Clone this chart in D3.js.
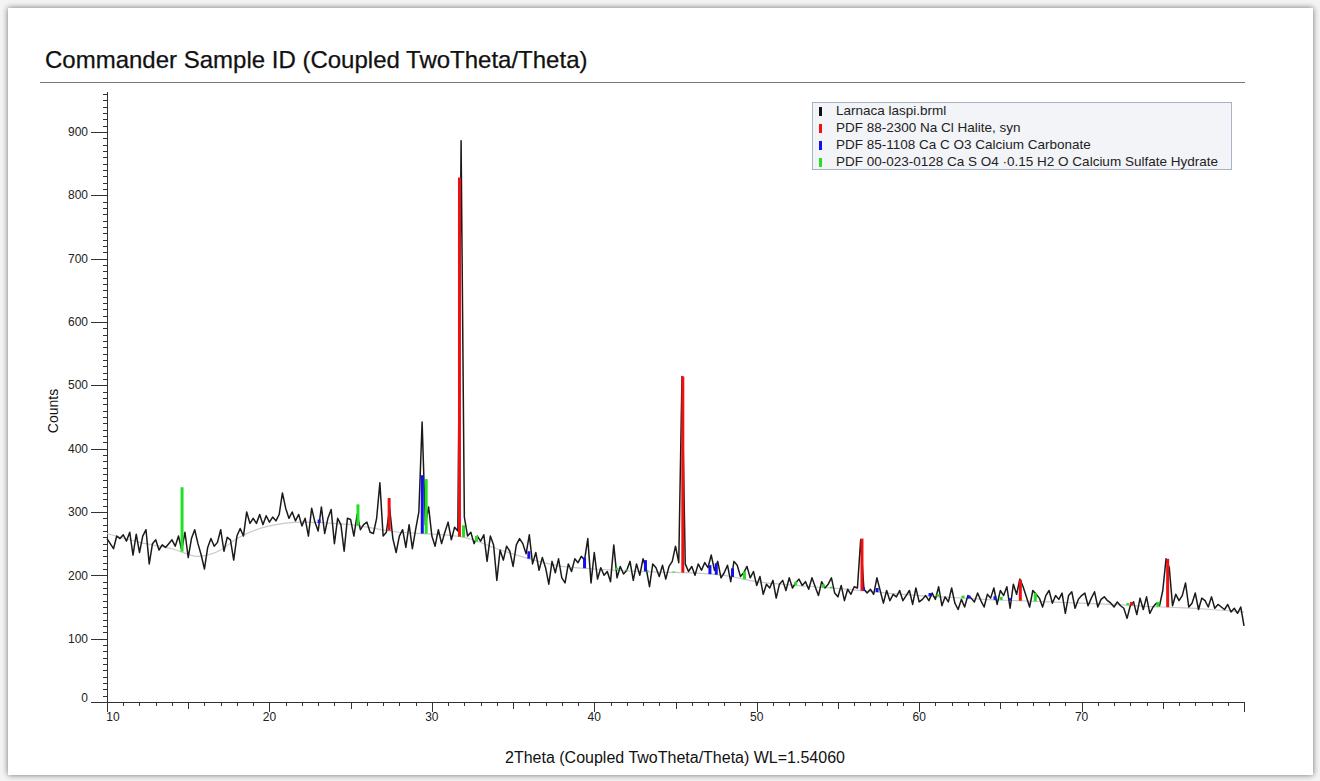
<!DOCTYPE html>
<html>
<head>
  <meta charset="utf-8">
  <title>Commander Sample ID</title>
  <script src="https://d3js.org/d3.v7.min.js"></script>
  <style>
    body {
      margin: 0;
      background: #f4f4f4;
      font-family: "Liberation Sans", Arial, sans-serif;
    }
    .card {
      position: absolute;
      left: 8px;
      top: 8px;
      width: 1305px;
      height: 767px;
      background: #fff;
      box-shadow: 0 0 6px rgba(0, 0, 0, 0.55);
    }
    svg {
      position: absolute;
      left: 0;
      top: 0;
    }
  </style>
</head>
<body>
<div class="card"></div>
<svg id="chart" width="1320" height="781"></svg>
<script>
// scan: 10..80 deg 2theta, step 0.2 (one row = 2 degrees)
var scanStart = 10, scanStep = 0.2;
var counts = [
  258, 250, 242, 262, 258, 264, 254, 268, 232, 265, // 10
  236, 262, 272, 218, 250, 256, 240, 248, 244, 250, // 12
  256, 246, 262, 240, 268, 228, 258, 272, 250, 232, // 14
  210, 244, 258, 246, 252, 272, 238, 260, 256, 224, // 16
  262, 274, 262, 300, 282, 290, 282, 296, 280, 294, // 18
  284, 292, 286, 296, 330, 306, 290, 300, 286, 296, // 20
  278, 290, 262, 306, 284, 270, 308, 266, 290, 304, // 22
  250, 290, 280, 238, 290, 288, 262, 296, 272, 280, // 24
  284, 268, 266, 290, 346, 262, 268, 306, 258, 236, // 26
  262, 272, 244, 280, 242, 272, 300, 442, 280, 308, // 28
  262, 246, 272, 250, 268, 284, 256, 276, 270, 886, // 30
  292, 262, 268, 250, 262, 254, 264, 222, 262, 248, // 32
  192, 240, 224, 246, 238, 214, 248, 258, 250, 234, // 34
  264, 218, 236, 208, 228, 212, 186, 222, 204, 226, // 36
  196, 188, 218, 206, 226, 220, 230, 224, 258, 188, // 38
  236, 194, 212, 200, 206, 190, 248, 196, 214, 202, // 40
  208, 222, 192, 218, 200, 226, 210, 182, 218, 212, // 42
  198, 216, 194, 214, 222, 246, 220, 514, 218, 206, // 44
  214, 200, 218, 208, 220, 212, 232, 208, 222, 196, // 46
  204, 216, 190, 222, 216, 198, 204, 214, 196, 206, // 48
  184, 198, 170, 186, 180, 192, 164, 186, 192, 176, // 50
  196, 180, 188, 194, 184, 190, 178, 196, 182, 168, // 52
  190, 180, 186, 196, 172, 166, 184, 160, 178, 170, // 54
  182, 180, 256, 178, 172, 178, 170, 196, 176, 156, // 56
  176, 160, 170, 166, 176, 160, 168, 176, 154, 180, // 58
  158, 162, 168, 160, 172, 162, 182, 152, 166, 158, // 60
  180, 156, 146, 162, 150, 168, 164, 158, 172, 160, // 62
  150, 170, 164, 180, 154, 176, 168, 182, 148, 186, // 64
  170, 194, 182, 166, 150, 176, 170, 164, 150, 168, // 66
  176, 156, 168, 162, 172, 140, 168, 174, 148, 162, // 68
  168, 172, 152, 164, 174, 150, 162, 166, 160, 156, // 70
  150, 158, 152, 148, 132, 152, 158, 138, 164, 146, // 72
  166, 140, 150, 156, 152, 176, 226, 212, 152, 170, // 74
  160, 168, 188, 150, 156, 172, 146, 164, 160, 150, // 76
  166, 148, 154, 150, 146, 154, 142, 148, 140, 150, // 78
  120                                               // 80
];

// fitted background (2theta, counts)
var bgAngles = [10, 12, 14, 15.6, 17, 18, 20, 22, 25, 28, 30, 32, 34, 36, 38, 40, 44, 46, 48, 50, 52, 54, 56, 58, 60, 62, 64, 66, 68, 70, 72, 74, 76, 78, 80];
var bgCounts = [266, 252, 242, 230, 240, 258, 278, 284, 280, 268, 265, 260, 242, 226, 214, 210, 205, 204, 200, 190, 185, 181, 177, 172, 168, 165, 162, 160, 158, 156, 154, 151, 149, 146, 142];

// reference patterns: stick positions and top counts
var haliteAngles = [27.37, 31.70, 45.45, 56.48, 66.23, 73.07, 75.30];
var haliteTops   = [322, 828, 514, 258, 193, 158, 226];
var calciteAngles = [23.06, 29.41, 35.97, 39.40, 43.15, 47.12, 47.51, 48.51, 56.57, 57.41, 60.67, 63.07, 64.67, 65.60];
var calciteTops   = [288, 358, 238, 228, 224, 216, 219, 211, 181, 180, 172, 168, 167, 164];
var sulfateAngles = [14.62, 25.45, 29.65, 31.95, 32.75, 38.55, 41.40, 42.00, 43.25, 44.90, 49.25, 52.40, 54.10, 54.60, 61.16, 62.70, 65.05, 67.15, 72.85, 74.70];
var sulfateTops   = [339, 312, 352, 279, 262, 212, 212, 209, 208, 206, 206, 190, 186, 182, 170, 168, 166, 172, 156, 158];

var legendNames = [
  "Larnaca laspi.brml",
  "PDF 88-2300 Na Cl Halite, syn",
  "PDF 85-1108 Ca C O3 Calcium Carbonate",
  "PDF 00-023-0128 Ca S O4 \u00b70.15 H2 O Calcium Sulfate Hydrate"
];
var legendColors = ["#111111", "#ee1111", "#1111ee", "#22e022"];

var xTicks = [10, 20, 30, 40, 50, 60, 70];
var yTicks = [0, 100, 200, 300, 400, 500, 600, 700, 800, 900];

var svg = d3.select("#chart");
var x = d3.scaleLinear().domain([10, 80]).range([107, 1244]);
var y = d3.scaleLinear().domain([0, 963]).range([702, 92]);
var bg = d3.scaleLinear().domain(bgAngles).range(bgCounts);

// title + rule
svg.append("text")
  .attr("x", 45).attr("y", 68)
  .attr("font-size", 24)
  .attr("fill", "#111")
  .attr("stroke", "#111").attr("stroke-width", 0.25)
  .text("Commander Sample ID (Coupled TwoTheta/Theta)");
svg.append("line")
  .attr("x1", 40).attr("x2", 1245)
  .attr("y1", 82.5).attr("y2", 82.5)
  .attr("stroke", "#777").attr("stroke-width", 1.2);

// y axis
var gy = svg.append("g").attr("stroke", "#333");
gy.append("line")
  .attr("x1", 107.5).attr("x2", 107.5)
  .attr("y1", y.range()[1]).attr("y2", 712);
gy.selectAll("line.minor")
  .data(d3.range(0, 961, 10))
  .enter().append("line")
  .attr("class", "minor")
  .attr("x1", 103).attr("x2", 108)
  .attr("y1", function (d) { return Math.round(y(d)) + 0.5; })
  .attr("y2", function (d) { return Math.round(y(d)) + 0.5; });
gy.selectAll("line.major")
  .data(yTicks)
  .enter().append("line")
  .attr("class", "major")
  .attr("x1", 91).attr("x2", 108)
  .attr("y1", function (d) { return Math.round(y(d)) + 0.5; })
  .attr("y2", function (d) { return Math.round(y(d)) + 0.5; });
svg.selectAll("text.ytick")
  .data(yTicks)
  .enter().append("text")
  .attr("class", "ytick")
  .attr("x", 88)
  .attr("y", function (d) { return d === 0 ? y(d) - 4 : y(d); })
  .attr("dy", "0.35em")
  .attr("text-anchor", "end")
  .attr("font-size", 12)
  .attr("fill", "#222")
  .text(function (d) { return d; });

// x axis
var gx = svg.append("g").attr("stroke", "#333");
gx.append("line")
  .attr("x1", 96).attr("x2", 1244)
  .attr("y1", 702.5).attr("y2", 702.5);
gx.selectAll("line.minor")
  .data(d3.range(10, 81, 1))
  .enter().append("line")
  .attr("class", "minor")
  .attr("y1", 702).attr("y2", function (d) { return d % 10 === 0 ? 712 : (d % 5 === 0 ? 709 : 706); })
  .attr("x1", function (d) { return Math.round(x(d)) + 0.5; })
  .attr("x2", function (d) { return Math.round(x(d)) + 0.5; });
svg.selectAll("text.xtick")
  .data(xTicks)
  .enter().append("text")
  .attr("class", "xtick")
  .attr("x", function (d) { return d === 10 ? x(d) + 6 : x(d); })
  .attr("y", 721)
  .attr("text-anchor", "middle")
  .attr("font-size", 12)
  .attr("fill", "#222")
  .text(function (d) { return d; });

// axis titles
svg.append("text")
  .attr("transform", "translate(58,411) rotate(-90)")
  .attr("text-anchor", "middle")
  .attr("font-size", 14)
  .attr("fill", "#111")
  .text("Counts");
svg.append("text")
  .attr("x", 675).attr("y", 763)
  .attr("text-anchor", "middle")
  .attr("font-size", 16)
  .attr("fill", "#111")
  .text("2Theta (Coupled TwoTheta/Theta) WL=1.54060");

// background curve
var bgLine = d3.line()
  .x(function (d, i) { return x(d); })
  .y(function (d, i) { return y(bgCounts[i]); })
  .curve(d3.curveMonotoneX);
svg.append("path")
  .attr("d", bgLine(bgAngles))
  .attr("fill", "none")
  .attr("stroke", "#c9c9c9")
  .attr("stroke-width", 1.2);

// measured scan
var scan = d3.line()
  .x(function (d, i) { return x(scanStart + i * scanStep); })
  .y(function (d) { return y(d); });
svg.append("path")
  .attr("d", scan(counts))
  .attr("fill", "none")
  .attr("stroke", "#1a1a1a")
  .attr("stroke-width", 1.5)
  .attr("stroke-linejoin", "round");

// reference sticks, from the background up
function sticks(angles, tops, color) {
  svg.append("g").selectAll("line")
    .data(angles)
    .enter().append("line")
    .attr("x1", function (d) { return x(d); })
    .attr("x2", function (d) { return x(d); })
    .attr("y1", function (d) { return y(bg(d)); })
    .attr("y2", function (d, i) { return y(tops[i]); })
    .attr("stroke", color)
    .attr("stroke-width", 3);
}
sticks(sulfateAngles, sulfateTops, legendColors[3]);
sticks(calciteAngles, calciteTops, legendColors[2]);
sticks(haliteAngles, haliteTops, legendColors[1]);

// legend
var lg = svg.append("g").attr("transform", "translate(812,102)");
lg.append("rect")
  .attr("x", 0.5).attr("y", 0.5)
  .attr("width", 419).attr("height", 67)
  .attr("fill", "#f2f4f8")
  .attr("stroke", "#a8b4c2");
var rows = lg.selectAll("g.row")
  .data(legendNames)
  .enter().append("g")
  .attr("class", "row")
  .attr("transform", function (d, i) { return "translate(0," + (8 + i * 17) + ")"; });
rows.append("rect")
  .attr("x", 7).attr("y", -3)
  .attr("width", 3).attr("height", 9)
  .attr("fill", function (d, i) { return legendColors[i]; });
rows.append("text")
  .attr("x", 24).attr("y", 0)
  .attr("dy", "0.35em")
  .attr("font-size", 13.5)
  .attr("fill", "#222")
  .text(function (d) { return d; });
</script>
</body>
</html>
